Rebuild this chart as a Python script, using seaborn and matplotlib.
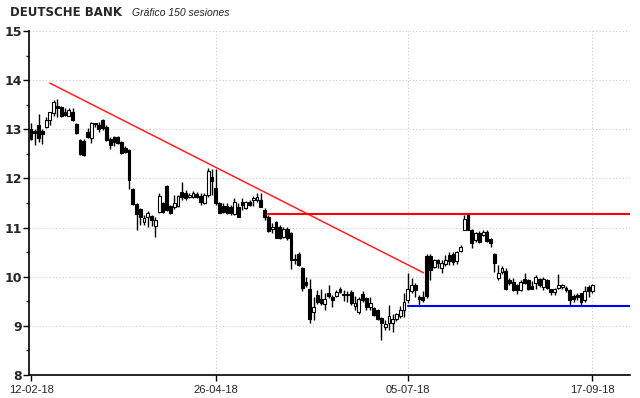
import numpy as np
import pandas as pd
import matplotlib
matplotlib.use("Agg")
import matplotlib.pyplot as plt
import seaborn as sns

# Daily OHLC for the 150 sessions
opens = [13.00, 12.97, 13.09, 12.97, 13.05, 13.18, 13.34, 13.47, 13.46, 13.36,
         13.28, 13.36, 13.10, 12.78, 12.77, 12.95, 12.82, 13.11, 13.09, 13.18,
         13.05, 12.80, 12.85, 12.84, 12.75, 12.62, 12.58, 11.78, 11.48, 11.37,
         11.12, 11.21, 11.24, 11.03, 11.32, 11.51, 11.85, 11.44, 11.41, 11.44,
         11.73, 11.70, 11.63, 11.63, 11.68, 11.64, 11.49, 11.66, 12.02, 11.80,
         11.49, 11.44, 11.44, 11.42, 11.28, 11.42, 11.53, 11.39, 11.53, 11.57,
         11.56, 11.57, 11.36, 11.22, 10.97, 11.12, 11.02, 10.80, 10.98, 10.88,
         10.37, 10.46, 10.17, 9.90, 9.75, 9.29, 9.63, 9.54, 9.44, 9.66,
         9.59, 9.60, 9.76, 9.64, 9.63, 9.69, 9.40, 9.29, 9.64, 9.56,
         9.39, 9.36, 9.32, 9.15, 8.97, 9.06, 9.05, 9.13, 9.20, 9.32,
         9.53, 9.70, 9.83, 9.59, 9.59, 10.42, 10.42, 10.20, 10.34, 10.17,
         10.26, 10.44, 10.47, 10.31, 10.53, 10.96, 11.26, 10.96, 10.75, 10.88,
         10.85, 10.92, 10.76, 10.47, 9.97, 10.10, 10.12, 9.93, 9.90, 9.83,
         9.72, 9.95, 9.93, 9.81, 9.87, 9.95, 9.80, 9.93, 9.74, 9.68,
         9.78, 9.80, 9.78, 9.73, 9.60, 9.63, 9.66, 9.53, 9.80, 9.70]
highs = [13.12, 13.00, 13.31, 13.00, 13.24, 13.36, 13.60, 13.62, 13.48, 13.43,
         13.43, 13.43, 13.12, 12.80, 12.80, 13.02, 13.15, 13.13, 13.14, 13.20,
         13.08, 12.85, 12.86, 12.86, 12.77, 12.65, 12.60, 11.80, 11.50, 11.40,
         11.26, 11.34, 11.26, 11.22, 11.71, 11.53, 11.86, 11.46, 11.66, 11.66,
         11.92, 11.76, 11.70, 11.74, 11.72, 11.70, 11.70, 12.21, 12.20, 12.20,
         11.53, 11.51, 11.49, 11.45, 11.60, 11.51, 11.60, 11.55, 11.57, 11.64,
         11.70, 11.70, 11.39, 11.26, 11.09, 11.14, 11.05, 11.02, 11.02, 10.92,
         10.47, 10.50, 10.19, 10.00, 9.95, 9.59, 9.73, 9.76, 9.66, 9.83,
         9.63, 9.73, 9.80, 9.73, 9.70, 9.73, 9.61, 9.59, 9.70, 9.59,
         9.59, 9.39, 9.34, 9.17, 9.12, 9.42, 9.25, 9.27, 9.40, 9.66,
         10.08, 9.97, 9.87, 9.63, 9.70, 10.47, 10.47, 10.37, 10.37, 10.34,
         10.44, 10.51, 10.51, 10.53, 10.65, 11.26, 11.28, 10.98, 10.92, 10.94,
         10.96, 10.95, 10.78, 10.48, 10.24, 10.22, 10.17, 9.97, 9.97, 9.86,
         9.94, 10.07, 9.95, 9.92, 10.04, 9.98, 9.99, 9.96, 9.76, 9.78,
         10.05, 9.85, 9.82, 9.76, 9.64, 9.66, 9.67, 9.81, 9.83, 9.86]
lows = [12.78, 12.68, 12.75, 12.70, 13.02, 13.09, 13.28, 13.26, 13.25, 13.27,
        13.27, 13.16, 12.90, 12.48, 12.45, 12.82, 12.72, 13.05, 12.95, 12.99,
        12.76, 12.59, 12.66, 12.70, 12.50, 12.52, 11.78, 11.45, 10.96, 11.05,
        11.05, 11.02, 11.03, 10.80, 11.30, 11.29, 11.34, 11.27, 11.37, 11.42,
        11.57, 11.56, 11.60, 11.60, 11.60, 11.46, 11.47, 11.63, 11.66, 11.46,
        11.29, 11.29, 11.28, 11.26, 11.26, 11.21, 11.36, 11.37, 11.43, 11.43,
        11.53, 11.41, 11.15, 10.92, 10.88, 10.78, 10.77, 10.78, 10.75, 10.15,
        10.26, 10.22, 9.70, 9.80, 9.05, 9.12, 9.44, 9.42, 9.32, 9.56,
        9.39, 9.59, 9.66, 9.51, 9.49, 9.42, 9.32, 9.25, 9.49, 9.32,
        9.32, 9.20, 9.12, 8.71, 8.92, 8.91, 8.88, 9.10, 9.15, 9.19,
        9.46, 9.66, 9.59, 9.40, 9.49, 9.56, 9.93, 10.17, 10.17, 10.07,
        10.21, 10.24, 10.24, 10.25, 10.51, 10.95, 10.95, 10.58, 10.71, 10.68,
        10.83, 10.71, 10.61, 10.10, 9.93, 10.06, 9.72, 9.83, 9.70, 9.65,
        9.70, 9.86, 9.72, 9.74, 9.74, 9.80, 9.73, 9.76, 9.63, 9.63,
        9.74, 9.75, 9.68, 9.40, 9.49, 9.53, 9.40, 9.49, 9.59, 9.66]
closes = [12.80, 12.92, 12.82, 12.90, 13.18, 13.36, 13.56, 13.43, 13.27, 13.29,
          13.40, 13.18, 12.92, 12.50, 12.47, 12.84, 13.13, 13.12, 13.00, 13.02,
          12.78, 12.68, 12.75, 12.73, 12.51, 12.54, 11.97, 11.48, 11.28, 11.22,
          11.19, 11.29, 11.16, 11.15, 11.64, 11.32, 11.36, 11.29, 11.49, 11.64,
          11.63, 11.60, 11.66, 11.71, 11.62, 11.53, 11.66, 12.16, 11.95, 11.49,
          11.30, 11.32, 11.30, 11.29, 11.53, 11.22, 11.46, 11.53, 11.46, 11.58,
          11.62, 11.42, 11.22, 10.94, 11.01, 10.79, 10.78, 10.98, 10.78, 10.35,
          10.34, 10.24, 9.78, 9.84, 9.13, 9.38, 9.49, 9.46, 9.54, 9.61,
          9.53, 9.69, 9.69, 9.62, 9.63, 9.46, 9.46, 9.54, 9.52, 9.39,
          9.46, 9.22, 9.13, 9.05, 9.04, 9.20, 9.13, 9.24, 9.32, 9.49,
          9.74, 9.83, 9.72, 9.54, 9.52, 9.60, 10.14, 10.34, 10.27, 10.27,
          10.35, 10.31, 10.29, 10.51, 10.60, 11.17, 10.95, 10.69, 10.88, 10.71,
          10.92, 10.73, 10.69, 10.27, 10.08, 10.17, 9.74, 9.88, 9.72, 9.73,
          9.90, 9.88, 9.74, 9.76, 10.00, 9.83, 9.95, 9.78, 9.68, 9.76,
          9.83, 9.82, 9.72, 9.53, 9.54, 9.59, 9.49, 9.70, 9.70, 9.83]

tick_labels = ["12-02-18", "26-04-18", "05-07-18", "17-09-18"]
tick_sessions = [0, 49, 100, 149]

# Trend lines drawn on the chart (session index, price)
down_x = [5, 104.2]
down_y = [13.94, 10.08]
resist_x = [62.8, 159]
resist_y = [11.28, 11.28]
support_x = [100, 159]
support_y = [9.40, 9.40]

df = pd.DataFrame({"open": opens, "high": highs, "low": lows, "close": closes})
df["session"] = np.arange(len(df))
df["up"] = df["close"] >= df["open"]
df["bottom"] = df[["open", "close"]].min(axis=1)
df["body"] = (df["close"] - df["open"]).abs().clip(lower=0.025)

sns.set_style("white")
fig = plt.figure(figsize=(6.4, 3.98), dpi=100)
ax = fig.add_axes([0.0453, 0.0578, 0.9391, 0.8643])

# grid
grid_kw = dict(color="#cfc8d0", lw=0.8, ls=(0, (1, 2)), zorder=0)
for v in range(9, 16):
    ax.axhline(v, **grid_kw)
for t in tick_sessions[1:]:
    ax.axvline(t, **grid_kw)

# candles
ax.vlines(df["session"], df["low"], df["high"], color="black", lw=1, zorder=2)
ax.bar(df["session"], df["body"], bottom=df["bottom"], width=0.75,
       color=np.where(df["up"], "white", "black"), edgecolor="black",
       linewidth=0.8, zorder=3)

# trend lines
sns.lineplot(x=down_x, y=down_y, color="#ff2020", lw=1.1, ax=ax, zorder=4)
sns.lineplot(x=resist_x, y=resist_y, color="#ff0000", lw=1.5, ax=ax, zorder=4)
sns.lineplot(x=support_x, y=support_y, color="#0000ff", lw=1.5, ax=ax, zorder=4)

ax.set_xlim(-0.55, 159)
ax.set_ylim(8, 15)
ax.set_xticks(tick_sessions)
ax.set_xticklabels(tick_labels, fontsize=8, family="Liberation Sans")
ax.set_yticks(range(8, 16))
ax.set_yticklabels([str(v) for v in range(8, 16)], fontsize=9, fontweight="bold")
ax.set_yticks(np.arange(8.5, 15, 1), minor=True)
ax.tick_params(axis="both", which="major", direction="out", length=4,
               width=1, color="black", left=True, bottom=True)
ax.tick_params(axis="y", which="major", pad=1)
ax.tick_params(axis="x", which="major", pad=3)
ax.tick_params(axis="y", which="minor", direction="out", length=2, width=1, left=True)
ax.set_xlabel("")
ax.set_ylabel("")

for side in ["top", "right"]:
    ax.spines[side].set_visible(False)
for side in ["left", "bottom"]:
    ax.spines[side].set_color("black")
    ax.spines[side].set_linewidth(1.2)

fig.text(10 / 640, 1 - 15.5 / 398, "DEUTSCHE BANK", fontsize=8.5,
         fontweight="bold", va="baseline", ha="left")
fig.text(132 / 640, 1 - 15.5 / 398, "Gráfico 150 sesiones", fontsize=7.5,
         style="italic", family="Liberation Sans", va="baseline", ha="left")

fig.savefig("out.png", dpi=100)
